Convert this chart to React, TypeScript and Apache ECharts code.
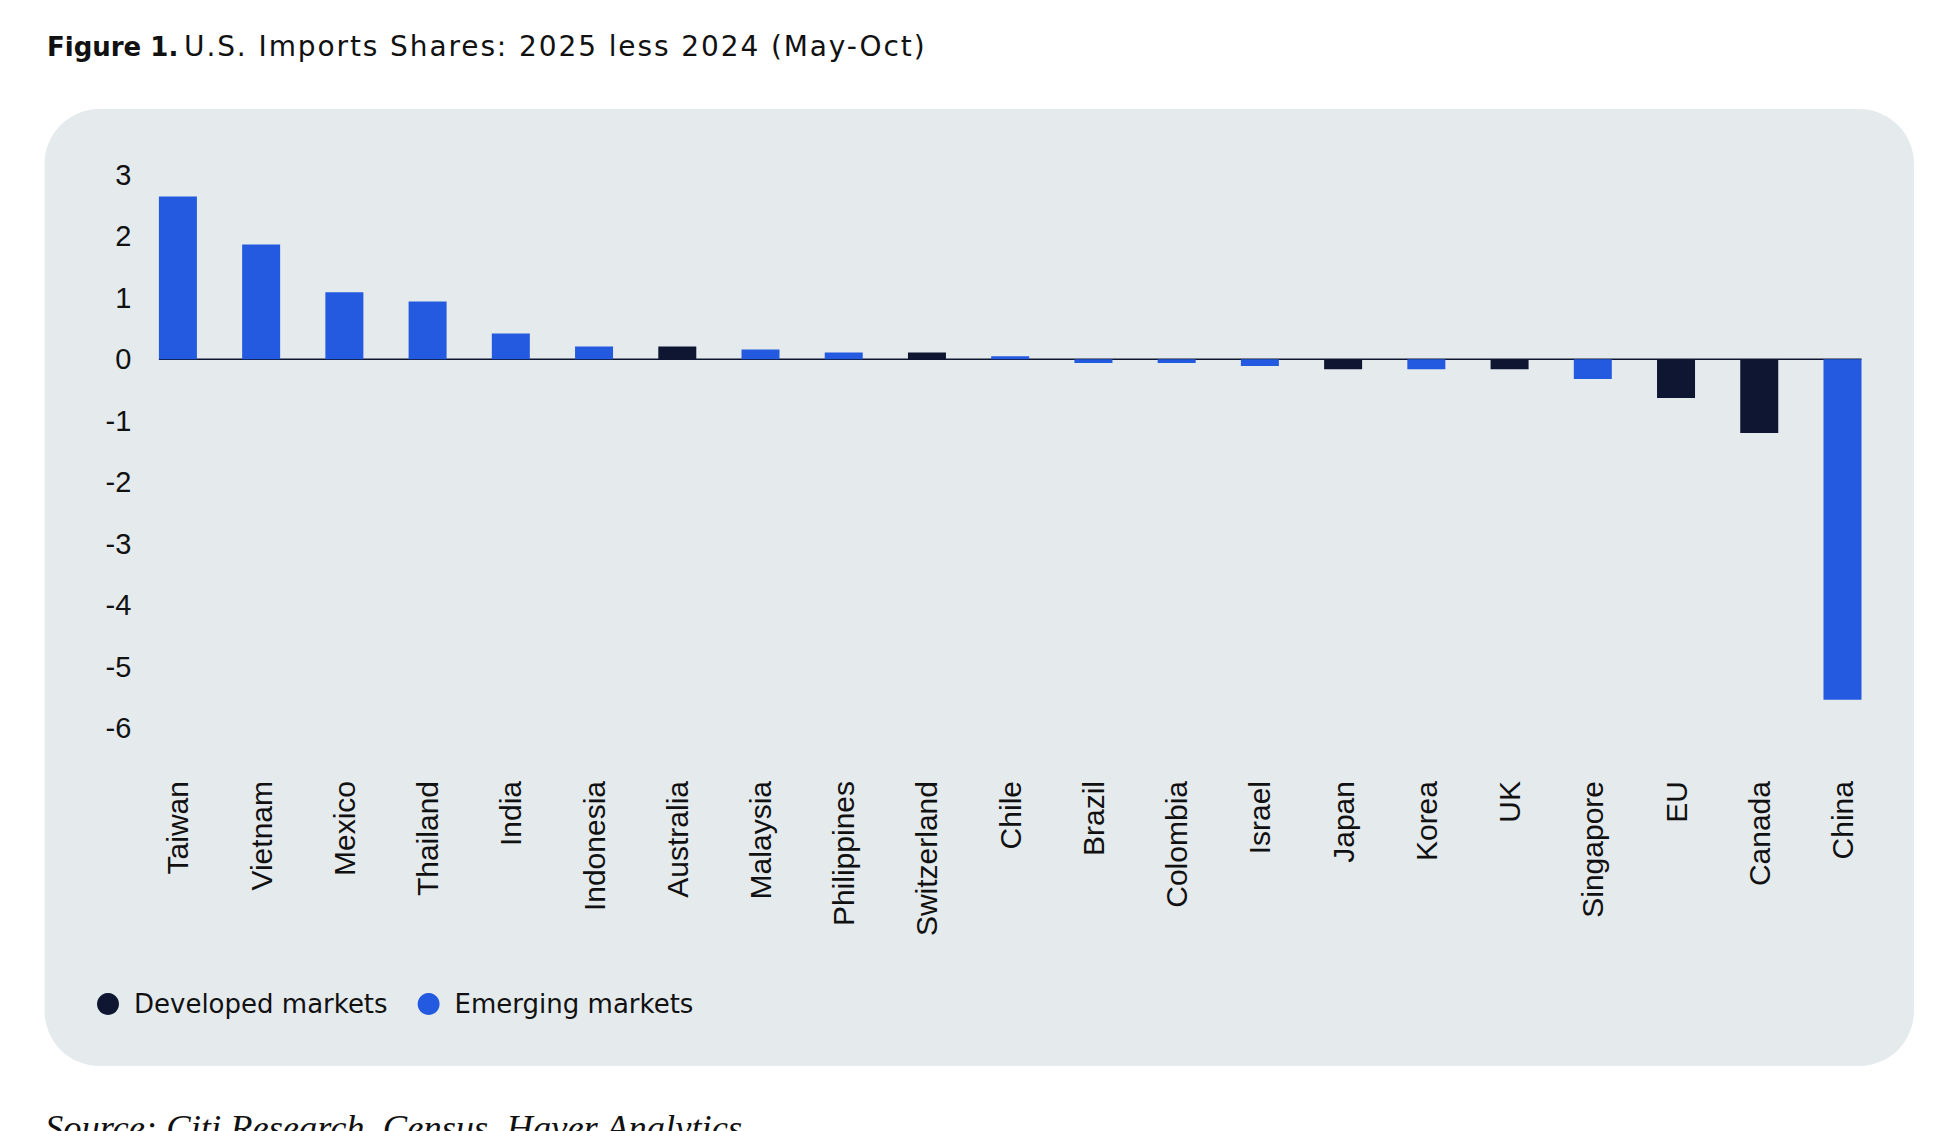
import React, { useEffect, useRef } from "react";
import * as echarts from "echarts";

const categories = ["Taiwan", "Vietnam", "Mexico", "Thailand", "India", "Indonesia", "Australia", "Malaysia", "Philippines", "Switzerland", "Chile", "Brazil", "Colombia", "Israel", "Japan", "Korea", "UK", "Singapore", "EU", "Canada", "China"];
const values = [2.65, 1.87, 1.09, 0.94, 0.42, 0.21, 0.21, 0.16, 0.11, 0.11, 0.05, -0.06, -0.06, -0.11, -0.16, -0.16, -0.16, -0.32, -0.63, -1.2, -5.54];
const marketGroup = ["EM", "EM", "EM", "EM", "EM", "EM", "DM", "EM", "EM", "DM", "EM", "EM", "EM", "EM", "DM", "EM", "DM", "EM", "DM", "DM", "EM"];
const seriesNames = ["Developed markets", "Emerging markets"];
const yMin = -6;
const yMax = 3;
const yInterval = 1;

const TITLE_BOLD = "Figure 1.";
const TITLE_REST = "U.S. Imports Shares: 2025 less 2024 (May-Oct)";
const SOURCE = "Source: Citi Research, Census, Haver Analytics";

const DM_COLOR = "#0e1631";
const EM_COLOR = "#245ae0";
const PANEL = "#e5eaed";
const INK = "#111111";
const BAR_W = 38;

export default function App() {
  const ref = useRef<HTMLDivElement>(null);
  useEffect(() => {
    if (!ref.current) return;
    const chart = echarts.init(ref.current, undefined, { renderer: "svg" });
    const option: any = {
      animation: false,
      graphic: [
        {
          type: "rect",
          z: 0,
          silent: true,
          shape: { x: 44.5, y: 109, width: 1869.5, height: 957, r: 55 },
          style: { fill: PANEL },
        },
        {
          type: "text",
          z: 1,
          x: 47,
          y: 46.7,
          style: { text: TITLE_BOLD, font: "bold 26px 'DejaVu Sans'", fill: INK, verticalAlign: "middle", align: "left" },
        },
        {
          type: "text",
          z: 1,
          x: 184,
          y: 46.3,
          style: { text: TITLE_REST, font: "28px 'DejaVu Sans'", fill: INK, verticalAlign: "middle", align: "left" },
        },
        {
          type: "text",
          z: 1,
          x: 45,
          y: 1127.7,
          style: { text: SOURCE, font: "italic 36.5px 'Liberation Serif'", fill: INK, verticalAlign: "middle", align: "left" },
        },
      ],
      grid: { left: 136.3, right: 54.9, top: 175, bottom: 403, containLabel: false },
      legend: {
        data: seriesNames,
        left: 92,
        top: 986,
        icon: "circle",
        itemWidth: 42,
        itemHeight: 22,
        itemGap: 30,
        selectedMode: false,
        textStyle: { fontFamily: "DejaVu Sans", fontSize: 26, color: INK },
      },
      xAxis: {
        type: "category",
        data: categories,
        axisLine: { show: false, onZero: false },
        axisTick: { show: false },
        axisLabel: {
          interval: 0,
          rotate: 90,
          margin: 53,
          fontFamily: "Liberation Sans",
          fontSize: 30,
          color: INK,
        },
        splitLine: { show: false },
      },
      yAxis: {
        type: "value",
        min: yMin,
        max: yMax,
        interval: yInterval,
        axisLine: { show: false },
        axisTick: { show: false },
        splitLine: { show: false },
        axisLabel: { margin: 5, fontFamily: "Liberation Sans", fontSize: 29, color: INK },
      },
      series: [
        {
          type: "custom",
          silent: true,
          z: 2,
          data: [[0, 0]],
          renderItem: (_p: any, api: any) => {
            const a = api.coord([0, 0]);
            const b = api.coord([categories.length - 1, 0]);
            return {
              type: "line",
              shape: { x1: a[0] - BAR_W / 2, y1: a[1], x2: b[0] + BAR_W / 2, y2: b[1] },
              style: { stroke: DM_COLOR, lineWidth: 1.5 },
            };
          },
        },
        {
          name: seriesNames[0],
          type: "bar",
          z: 3,
          barWidth: BAR_W,
          barGap: "-100%",
          itemStyle: { color: DM_COLOR },
          data: values.map((v, i) => (marketGroup[i] === "DM" ? v : "-")),
        },
        {
          name: seriesNames[1],
          type: "bar",
          z: 3,
          barWidth: BAR_W,
          barGap: "-100%",
          itemStyle: { color: EM_COLOR },
          data: values.map((v, i) => (marketGroup[i] === "EM" ? v : "-")),
        },
      ],
    };
    chart.setOption(option);
    const spaceTitle = () => {
      const el = ref.current;
      if (!el) return;
      el.querySelectorAll("text").forEach((t) => {
        if ((t.textContent || "").startsWith("U.S.")) t.setAttribute("letter-spacing", "1.9");
      });
    };
    chart.on("finished", spaceTitle);
    const id = window.setTimeout(spaceTitle, 50);
    return () => {
      window.clearTimeout(id);
      chart.dispose();
    };
  }, []);
  return (
    <div
      ref={ref}
      style={{ position: "absolute", left: 0, top: 0, width: 1939, height: 1131, background: "#ffffff" }}
    />
  );
}
